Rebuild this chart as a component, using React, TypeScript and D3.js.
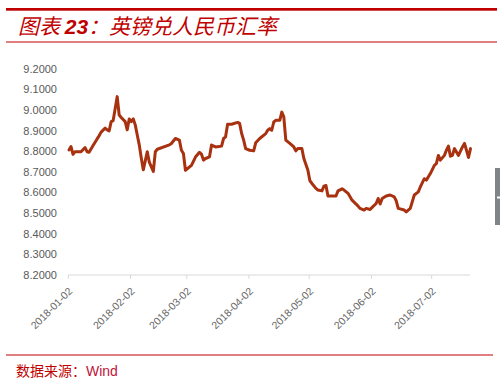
import React from 'react';
import * as d3 from 'd3';

const dates: string[] = [
  '2018-01-02','2018-01-03','2018-01-04','2018-01-05','2018-01-08','2018-01-10','2018-01-11','2018-01-12','2018-01-14','2018-01-16',
  '2018-01-17','2018-01-18','2018-01-20','2018-01-21','2018-01-22','2018-01-23','2018-01-24','2018-01-26','2018-01-27','2018-01-28',
  '2018-01-30','2018-01-31','2018-02-01','2018-02-02','2018-02-03','2018-02-04','2018-02-05','2018-02-06','2018-02-07','2018-02-08',
  '2018-02-10','2018-02-11','2018-02-13','2018-02-14','2018-02-15','2018-02-21','2018-02-22','2018-02-24','2018-02-26','2018-02-27',
  '2018-02-28','2018-03-01','2018-03-04','2018-03-06','2018-03-08','2018-03-09','2018-03-10','2018-03-11','2018-03-13','2018-03-14',
  '2018-03-16','2018-03-19','2018-03-20','2018-03-21','2018-03-22','2018-03-24','2018-03-27','2018-03-28','2018-03-29','2018-03-30',
  '2018-03-31','2018-04-02','2018-04-04','2018-04-05','2018-04-07','2018-04-10','2018-04-11','2018-04-12','2018-04-13','2018-04-14',
  '2018-04-15','2018-04-17','2018-04-18','2018-04-19','2018-04-20','2018-04-22','2018-04-24','2018-04-25','2018-04-26','2018-04-28',
  '2018-04-29','2018-05-01','2018-05-02','2018-05-03','2018-05-05','2018-05-06','2018-05-08','2018-05-09','2018-05-10','2018-05-11',
  '2018-05-14','2018-05-15','2018-05-16','2018-05-18','2018-05-19','2018-05-21','2018-05-23','2018-05-25','2018-05-26','2018-05-27',
  '2018-05-29','2018-05-30','2018-06-01','2018-06-02','2018-06-04','2018-06-05','2018-06-06','2018-06-07','2018-06-09','2018-06-11',
  '2018-06-13','2018-06-14','2018-06-15','2018-06-18','2018-06-19','2018-06-21','2018-06-23','2018-06-25','2018-06-26','2018-06-28',
  '2018-06-29','2018-07-01','2018-07-03','2018-07-04','2018-07-05','2018-07-06','2018-07-08','2018-07-09','2018-07-10','2018-07-11',
  '2018-07-12','2018-07-13','2018-07-15','2018-07-17','2018-07-18','2018-07-19','2018-07-20','2018-07-21',
];

const gbpCny: number[] = [
  8.806, 8.823, 8.785, 8.798, 8.798, 8.818, 8.798, 8.795, 8.828, 8.86,
  8.875, 8.893, 8.912, 8.904, 8.899, 8.944, 8.949, 9.065, 8.976, 8.964,
  8.944, 8.904, 8.957, 8.944, 8.957, 8.928, 8.879, 8.831, 8.767, 8.71,
  8.798, 8.747, 8.702, 8.798, 8.81, 8.831, 8.838, 8.862, 8.854, 8.805,
  8.789, 8.708, 8.732, 8.772, 8.795, 8.786, 8.757, 8.765, 8.773, 8.83,
  8.821, 8.825, 8.862, 8.87, 8.931, 8.931, 8.94, 8.935, 8.886, 8.854,
  8.813, 8.805, 8.802, 8.841, 8.862, 8.886, 8.902, 8.91, 8.902, 8.942,
  8.95, 8.95, 8.99, 8.967, 8.854, 8.838, 8.821, 8.802, 8.813, 8.813,
  8.765, 8.708, 8.657, 8.644, 8.62, 8.612, 8.608, 8.631, 8.634, 8.583,
  8.583, 8.583, 8.608, 8.618, 8.612, 8.596, 8.563, 8.544, 8.534, 8.523,
  8.515, 8.523, 8.518, 8.528, 8.547, 8.571, 8.544, 8.571, 8.583, 8.588,
  8.579, 8.56, 8.523, 8.515, 8.506, 8.523, 8.588, 8.603, 8.627, 8.667,
  8.66, 8.692, 8.732, 8.74, 8.78, 8.757, 8.78, 8.805, 8.825, 8.776,
  8.78, 8.813, 8.78, 8.821, 8.838, 8.805, 8.77, 8.813,
];

const yTicks: number[] = [8.2, 8.3, 8.4, 8.5, 8.6, 8.7, 8.8, 8.9, 9.0, 9.1, 9.2];
const xTickLabels: string[] = ['2018-01-02', '2018-02-02', '2018-03-02', '2018-04-02', '2018-05-02', '2018-06-02', '2018-07-02'];
const xDomain: string[] = ['2018-01-02', '2018-07-21'];

const titleLead = '图表 ';
const titleNum = '23';
const titleRest = '：英镑兑人民币汇率';
const sourceLabel = '数据来源：';
const sourceName = 'Wind';

const RED = '#C00000';
const LINE = '#A8310F';
const LABEL = '#595959';
const XLABEL = '#666666';

export default function App() {
  const parse = d3.timeParse('%Y-%m-%d');
  const x = d3
    .scaleTime()
    .domain([parse(xDomain[0]) as Date, parse(xDomain[1]) as Date])
    .range([69, 470.5]);
  const y = d3.scaleLinear().domain([8.2, 9.2]).range([275, 68.8]);

  const pts: [Date, number][] = dates.map((d, i) => [parse(d) as Date, gbpCny[i]]);
  const path = d3
    .line<[Date, number]>()
    .x((d) => x(d[0]))
    .y((d) => y(d[1]))(pts) as string;

  const fmt = d3.format('.4f');
  const axisY = y(8.2);

  return (
    <svg
      width={500}
      height={384}
      style={{ position: 'absolute', left: 0, top: 0, background: '#fff' }}
    >
      <rect x={0} y={0} width={500} height={384} fill="#fff" />
      {/* header */}
      <rect x={6} y={8} width={491} height={2.7} fill={RED} />
      <text
        x={18}
        y={34}
        fill={RED}
        fontStyle="italic"
        fontFamily="'Noto Sans CJK SC', sans-serif"
        fontSize={21}
      >
        <tspan>{titleLead}</tspan>
        <tspan fontWeight="bold" fontFamily="'Liberation Sans', Arial, sans-serif">{titleNum}</tspan>
        <tspan>{titleRest}</tspan>
      </text>
      <rect x={6} y={41.5} width={491} height={1} fill={RED} />

      {/* y labels */}
      {yTicks.map((t) => (
        <text
          key={t}
          x={57}
          y={y(t)}
          dy="0.35em"
          textAnchor="end"
          fill={LABEL}
          fontSize={11}
          fontFamily="'Liberation Sans', Arial, sans-serif"
        >
          {fmt(t)}
        </text>
      ))}

      {/* x axis */}
      <line x1={68} x2={470} y1={axisY} y2={axisY} stroke="#D9D9D9" strokeWidth={1} />
      {xTickLabels.map((s) => {
        const tx = x(parse(s) as Date) - 0.7;
        return (
          <g key={s}>
            <line x1={tx} x2={tx} y1={axisY} y2={axisY + 4} stroke="#D9D9D9" strokeWidth={1} />
            <text
              transform={`translate(${tx + 2},${axisY + 14}) rotate(-45)`}
              textAnchor="end"
              dominantBaseline="central"
              fill={XLABEL}
              fontSize={10.5}
              fontFamily="'Liberation Sans', Arial, sans-serif"
            >
              {s}
            </text>
          </g>
        );
      })}

      {/* series */}
      <path d={path} fill="none" stroke={LINE} strokeWidth={3} strokeLinejoin="round" strokeLinecap="round" />

      {/* footer */}
      <rect x={6} y={354.5} width={487} height={1} fill={RED} />
      <text x={16} y={376} fontSize={14} fontFamily="'Noto Sans CJK SC', sans-serif" fill={RED}>
        {sourceLabel}
        <tspan fontFamily="'Liberation Sans', Arial, sans-serif" fill="#C0143C">{sourceName}</tspan>
      </text>

      {/* side widget */}
      <rect x={495} y={168} width={5} height={57} fill="#7F8487" />
      <rect x={497} y={196.5} width={3} height={2} fill="#fff" />
    </svg>
  );
}
